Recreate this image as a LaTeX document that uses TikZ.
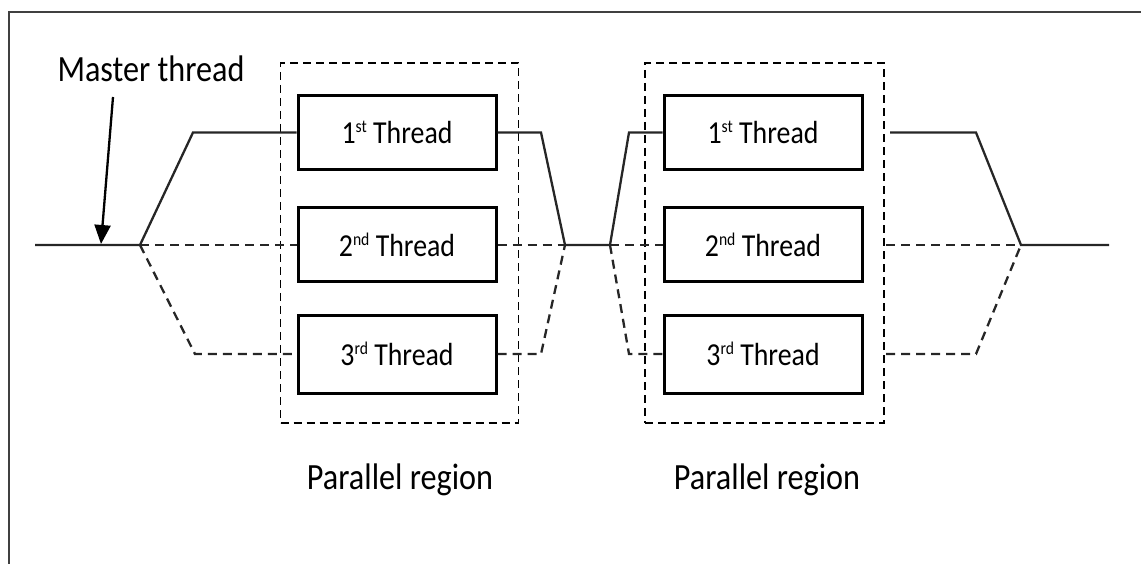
\documentclass[tikz,border=0pt]{standalone}
\usepackage{fontspec}
\usepackage{graphicx}
\setmainfont{Carlito}
\usetikzlibrary{arrows.meta}
\newcommand{\sqz}[1]{\scalebox{0.87}[1]{#1}}
\newcommand{\thsup}[1]{\raisebox{0.33em}{\fontsize{18}{18}\selectfont #1}}
\begin{document}
\begin{tikzpicture}[x=1pt,y=-1pt,
  thread/.style={draw, line width=3pt, minimum width=198pt, minimum height=74pt, inner sep=0pt, font=\fontsize{32}{36}\selectfont},
  region/.style={draw, line width=1.7pt, dash pattern=on 8pt off 5pt, minimum width=238pt, minimum height=360pt, inner sep=0pt},
  solidline/.style={line width=2.3pt, line join=miter, draw=black!85},
  dashline/.style={line width=2.3pt, dash pattern=on 9pt off 6pt, draw=black!85},
  lbl/.style={inner sep=0pt, font=\fontsize{37}{40}\selectfont},
]
\useasboundingbox (0,0) rectangle (1141,564);
\draw[line width=2.4pt, gray!50!black] (9,564) -- (9,12) -- (1141,12);

% regions
\node[region] (r1) at (399.5,243) {};
\node[region, minimum width=239pt] (r2) at (764.5,243) {};

% thread boxes
\node[thread] (t11) at (397,132.5) {\sqz{1\thsup{st} Thread}};
\node[thread] (t12) at (397,245) {\sqz{2\thsup{nd} Thread}};
\node[thread, minimum height=78pt] (t13) at (397,354) {\sqz{3\thsup{rd} Thread}};
\node[thread] (t21) at (763,132.5) {\sqz{1\thsup{st} Thread}};
\node[thread] (t22) at (763,245) {\sqz{2\thsup{nd} Thread}};
\node[thread, minimum height=78pt] (t23) at (763,354) {\sqz{3\thsup{rd} Thread}};

% labels
\node[lbl, anchor=base] (master) at (151,82) {\sqz{Master thread}};
\node[lbl, anchor=base] (p1) at (400,489) {\sqz{Parallel region}};
\node[lbl, anchor=base] (p2) at (767,489) {\sqz{Parallel region}};

% junction coordinates
\coordinate (m0) at (35,245);
\coordinate (f1) at (140,245);
\coordinate (a1) at (193,132.5);
\coordinate (a3) at (195,354);
\coordinate (c1) at (541,132.5);
\coordinate (c3) at (541,354);
\coordinate (j1) at (565,245);
\coordinate (f2) at (610,245);
\coordinate (d1) at (629,132.5);
\coordinate (d3) at (629,354);
\coordinate (s1) at (890,132.5);
\coordinate (s2) at (886,245);
\coordinate (s3) at (886,354);
\coordinate (e1) at (976,132.5);
\coordinate (e3) at (976,354);
\coordinate (j2) at (1021,245);
\coordinate (m1) at (1109,245);
\coordinate (mstart) at (113,97);
\coordinate (mtip) at (101,244);

% connectors
\draw[solidline] (m0) -- (f1) -- (a1) -- (t11.west);
\draw[dashline] (f1) -- (t12.west);
\draw[dashline] (f1) -- (a3) -- (t13.west);
\draw[solidline] (t11.east) -- (c1) -- (j1) -- (f2) -- (d1) -- (t21.west);
\draw[dashline] (t12.east) -- (j1);
\draw[dashline] (t13.east) -- (c3) -- (j1);
\draw[dashline] (f2) -- (t22.west);
\draw[dashline] (f2) -- (d3) -- (t23.west);
\draw[solidline] (s1) -- (e1) -- (j2) -- (m1);
\draw[dashline] (s2) -- (j2);
\draw[dashline] (s3) -- (e3) -- (j2);
\draw[line width=2.3pt, -{Triangle[length=19pt,width=16pt]}] (mstart) -- (mtip);
\end{tikzpicture}
\end{document}
